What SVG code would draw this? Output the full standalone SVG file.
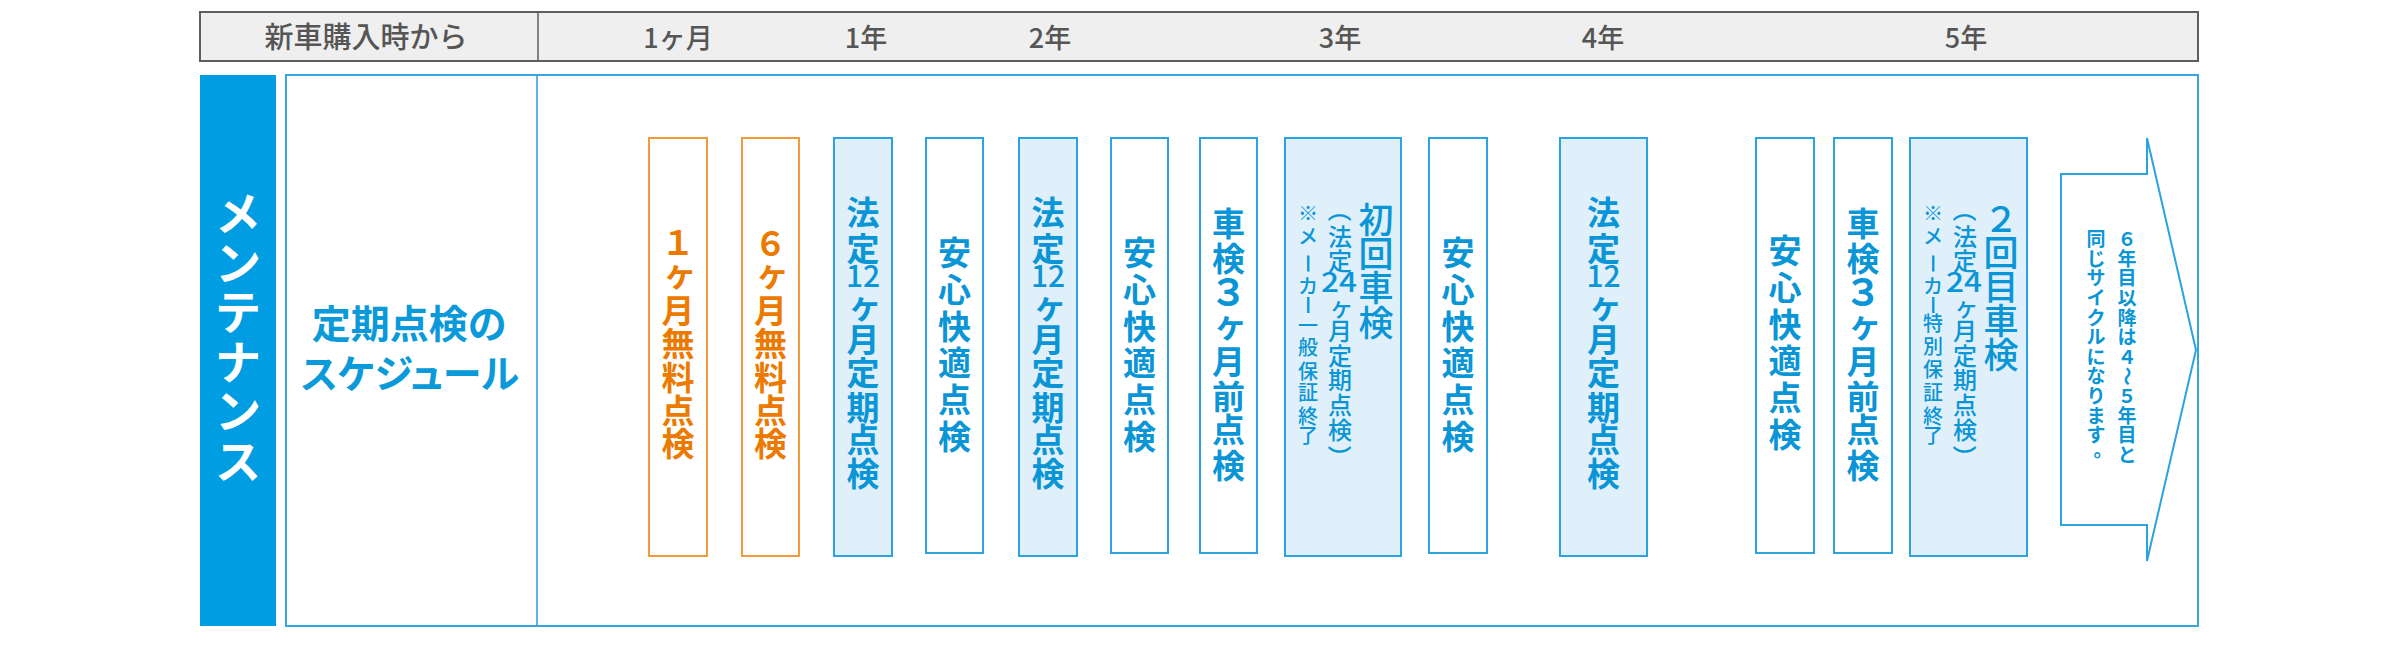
<svg xmlns="http://www.w3.org/2000/svg" width="2400" height="648" viewBox="0 0 2400 648">
<defs>
<style>
text{font-family:"Noto Sans CJK JP","Noto Sans",sans-serif;text-anchor:middle}
.hd{font-size:29px;font-weight:500;fill:#555555}
.hy{font-size:27px;font-weight:500;fill:#555555}
.or{font-size:33px;font-weight:700;fill:#ec7a00}
.bl{font-size:33px;font-weight:700;fill:#0a95d7}
.bd{font-size:30px;font-weight:500;fill:#0a95d7}
.b3{font-size:38px;font-weight:700;fill:#0a95d7}
.c1{font-size:35px;font-weight:500;fill:#0a95d7}
.c2{font-size:24px;font-weight:500;fill:#0a95d7}
.c3{font-size:20px;font-weight:500;fill:#0a95d7}
.ar{font-size:19px;font-weight:700;fill:#0a95d7}
.ob{fill:#ffffff;stroke:#f29b3d;stroke-width:2}
.wb{fill:#ffffff;stroke:#2aa3e0;stroke-width:2}
.fb{fill:#dff0fb;stroke:#2aa3e0;stroke-width:2}
</style>
</defs>
<rect width="2400" height="648" fill="#ffffff"/>
<g id="header">
<rect x="200" y="12" width="1998" height="49" fill="#eeefee" stroke="#5e5e5e" stroke-width="2"/>
<line x1="538" y1="12" x2="538" y2="61" stroke="#5e5e5e" stroke-width="1.5"/>
<text class="hd" x="366" y="48">新車購入時から</text>
<text class="hy" x="678" y="48">1ヶ月</text>
<text class="hy" x="866" y="48">1年</text>
<text class="hy" x="1050" y="48">2年</text>
<text class="hy" x="1340" y="48">3年</text>
<text class="hy" x="1603" y="48">4年</text>
<text class="hy" x="1966" y="48">5年</text>
</g>
<g id="maintenance">
<rect x="200" y="75" width="76" height="551" fill="#009de2"/>
<text style="font-size:46px;font-weight:700;fill:#ffffff"><tspan x="238" y="229.5">メ</tspan><tspan x="238" y="279.5">ン</tspan><tspan x="238" y="328.5">テ</tspan><tspan x="238" y="378.5">ナ</tspan><tspan x="238" y="427.5">ン</tspan><tspan x="238" y="477.5">ス</tspan></text>
</g>
<g id="schedule">
<rect x="286" y="75" width="1912" height="551" fill="#ffffff" stroke="#35a6e0" stroke-width="2"/>
<line x1="537" y1="75" x2="537" y2="626" stroke="#2b9ad8" stroke-width="1.5"/>
<text style="font-size:39px;font-weight:700;fill:#0a9ad9;font-feature-settings:'palt'"><tspan x="409" y="338">定期点検の</tspan><tspan x="410" y="388">スケジュール</tspan></text>
</g>
<g id="connectors"></g>
<g id="n1">
<rect class="ob" x="649" y="138" width="58" height="418"/>
<text class="or"><tspan x="678" y="254.5">１</tspan><tspan x="680" y="286">ヶ</tspan><tspan x="678" y="322.5">月</tspan><tspan x="678" y="355.5">無</tspan><tspan x="678" y="389.5">料</tspan><tspan x="678" y="422.5">点</tspan><tspan x="678" y="455.5">検</tspan></text>
</g>
<g id="n2">
<rect class="ob" x="742" y="138" width="57" height="418"/>
<text class="or"><tspan x="770.5" y="255.5">６</tspan><tspan x="772.5" y="286">ヶ</tspan><tspan x="770.5" y="322.5">月</tspan><tspan x="770.5" y="355.5">無</tspan><tspan x="770.5" y="389.5">料</tspan><tspan x="770.5" y="422.5">点</tspan><tspan x="770.5" y="455.5">検</tspan></text>
</g>
<g id="n3">
<rect class="fb" x="834" y="138" width="58" height="418"/>
<text class="bl"><tspan x="863" y="224.5">法</tspan><tspan x="863" y="260.5">定</tspan><tspan x="865" y="318">ヶ</tspan><tspan x="863" y="351.5">月</tspan><tspan x="863" y="384.5">定</tspan><tspan x="863" y="419.5">期</tspan><tspan x="863" y="451.5">点</tspan><tspan x="863" y="485.5">検</tspan></text>
<text class="bd" x="863" y="287">12</text>
</g>
<g id="n4">
<rect class="wb" x="926" y="138" width="57" height="415"/>
<text class="bl"><tspan x="954.5" y="264.5">安</tspan><tspan x="954.5" y="301.5">心</tspan><tspan x="954.5" y="338.5">快</tspan><tspan x="954.5" y="374.5">適</tspan><tspan x="954.5" y="411.5">点</tspan><tspan x="954.5" y="448.5">検</tspan></text>
</g>
<g id="n5">
<rect class="fb" x="1019" y="138" width="58" height="418"/>
<text class="bl"><tspan x="1048" y="224.5">法</tspan><tspan x="1048" y="260.5">定</tspan><tspan x="1050" y="318">ヶ</tspan><tspan x="1048" y="351.5">月</tspan><tspan x="1048" y="384.5">定</tspan><tspan x="1048" y="419.5">期</tspan><tspan x="1048" y="451.5">点</tspan><tspan x="1048" y="485.5">検</tspan></text>
<text class="bd" x="1048" y="287">12</text>
</g>
<g id="n6">
<rect class="wb" x="1111" y="138" width="57" height="415"/>
<text class="bl"><tspan x="1139.5" y="264.5">安</tspan><tspan x="1139.5" y="301.5">心</tspan><tspan x="1139.5" y="338.5">快</tspan><tspan x="1139.5" y="374.5">適</tspan><tspan x="1139.5" y="411.5">点</tspan><tspan x="1139.5" y="448.5">検</tspan></text>
</g>
<g id="n7">
<rect class="wb" x="1200" y="138" width="57" height="415"/>
<text class="bl"><tspan x="1228.5" y="235.5">車</tspan><tspan x="1228.5" y="270.5">検</tspan><tspan x="1230.5" y="337">ヶ</tspan><tspan x="1228.5" y="373.5">月</tspan><tspan x="1228.5" y="408.5">前</tspan><tspan x="1228.5" y="441.5">点</tspan><tspan x="1228.5" y="477.5">検</tspan></text>
<text class="b3" x="1228.5" y="306">３</text>
</g>
<g id="n8">
<rect class="fb" x="1285" y="138" width="116" height="418"/>
<text class="c1"><tspan x="1376" y="233.3">初</tspan><tspan x="1376" y="267.3">回</tspan><tspan x="1376" y="301.3">車</tspan><tspan x="1376" y="336.3">検</tspan></text>
<text class="c2" transform="translate(1340 210) rotate(90)" x="0" y="9.1">（</text>
<text class="c2"><tspan x="1340" y="246.1">法</tspan><tspan x="1340" y="270.1">定</tspan><tspan x="1341.5" y="316">ヶ</tspan><tspan x="1340" y="340.1">月</tspan><tspan x="1340" y="365.1">定</tspan><tspan x="1340" y="389.1">期</tspan><tspan x="1340" y="414.1">点</tspan><tspan x="1340" y="439.1">検</tspan></text>
<text class="c2" style="font-size:27px" x="1339" y="292" textLength="36" lengthAdjust="spacingAndGlyphs">24</text>
<text class="c2" transform="translate(1340 457) rotate(90)" x="0" y="9.1">）</text>
<text class="c3"><tspan x="1308" y="221.1">※</tspan><tspan x="1308" y="244.1">メ</tspan><tspan x="1308" y="294.1">カ</tspan><tspan x="1308" y="332.6">一</tspan><tspan x="1308" y="355.1">般</tspan><tspan x="1308" y="378.6">保</tspan><tspan x="1308" y="400.1">証</tspan><tspan x="1308" y="423.6">終</tspan><tspan x="1308" y="443.1">了</tspan></text>
<text class="c3" transform="translate(1308 263.5) rotate(90)" x="0" y="7.6">ー</text>
<text class="c3" transform="translate(1308 305) rotate(90)" x="0" y="7.6">ー</text>
</g>
<g id="n9">
<rect class="wb" x="1429" y="138" width="58" height="415"/>
<text class="bl"><tspan x="1458" y="264.5">安</tspan><tspan x="1458" y="301.5">心</tspan><tspan x="1458" y="338.5">快</tspan><tspan x="1458" y="374.5">適</tspan><tspan x="1458" y="411.5">点</tspan><tspan x="1458" y="448.5">検</tspan></text>
</g>
<g id="n10">
<rect class="fb" x="1560" y="138" width="87" height="418"/>
<text class="bl"><tspan x="1603.5" y="224.5">法</tspan><tspan x="1603.5" y="260.5">定</tspan><tspan x="1605.5" y="318">ヶ</tspan><tspan x="1603.5" y="351.5">月</tspan><tspan x="1603.5" y="384.5">定</tspan><tspan x="1603.5" y="419.5">期</tspan><tspan x="1603.5" y="451.5">点</tspan><tspan x="1603.5" y="485.5">検</tspan></text>
<text class="bd" x="1603.5" y="287">12</text>
</g>
<g id="n11">
<rect class="wb" x="1756" y="138" width="58" height="415"/>
<text class="bl"><tspan x="1785" y="262.5">安</tspan><tspan x="1785" y="299.5">心</tspan><tspan x="1785" y="336.5">快</tspan><tspan x="1785" y="372.5">適</tspan><tspan x="1785" y="409.5">点</tspan><tspan x="1785" y="446.5">検</tspan></text>
</g>
<g id="n12">
<rect class="wb" x="1834" y="138" width="58" height="415"/>
<text class="bl"><tspan x="1863" y="235.5">車</tspan><tspan x="1863" y="270.5">検</tspan><tspan x="1865" y="337">ヶ</tspan><tspan x="1863" y="373.5">月</tspan><tspan x="1863" y="408.5">前</tspan><tspan x="1863" y="441.5">点</tspan><tspan x="1863" y="477.5">検</tspan></text>
<text class="b3" x="1863" y="306">３</text>
</g>
<g id="n13">
<rect class="fb" x="1910" y="138" width="117" height="418"/>
<text class="c1"><tspan x="2001" y="232.3">２</tspan><tspan x="2001" y="266.3">回</tspan><tspan x="2001" y="300.3">目</tspan><tspan x="2001" y="334.3">車</tspan><tspan x="2001" y="368.3">検</tspan></text>
<text class="c2" transform="translate(1965 210) rotate(90)" x="0" y="9.1">（</text>
<text class="c2"><tspan x="1965" y="246.1">法</tspan><tspan x="1965" y="270.1">定</tspan><tspan x="1966.5" y="316">ヶ</tspan><tspan x="1965" y="340.1">月</tspan><tspan x="1965" y="365.1">定</tspan><tspan x="1965" y="389.1">期</tspan><tspan x="1965" y="414.1">点</tspan><tspan x="1965" y="439.1">検</tspan></text>
<text class="c2" style="font-size:27px" x="1964" y="292" textLength="36" lengthAdjust="spacingAndGlyphs">24</text>
<text class="c2" transform="translate(1965 457) rotate(90)" x="0" y="9.1">）</text>
<text class="c3"><tspan x="1933" y="221.1">※</tspan><tspan x="1933" y="244.1">メ</tspan><tspan x="1933" y="294.1">カ</tspan><tspan x="1933" y="331.1">特</tspan><tspan x="1933" y="353.6">別</tspan><tspan x="1933" y="376.6">保</tspan><tspan x="1933" y="400.1">証</tspan><tspan x="1933" y="423.6">終</tspan><tspan x="1933" y="443.1">了</tspan></text>
<text class="c3" transform="translate(1933 263.5) rotate(90)" x="0" y="7.6">ー</text>
<text class="c3" transform="translate(1933 305) rotate(90)" x="0" y="7.6">ー</text>
</g>
<g id="n14">
<polygon points="2061,174 2147,174 2147,138 2196,350 2147,561 2147,525 2061,525" fill="#ffffff" stroke="#2aa3e0" stroke-width="2"/>
<text class="ar"><tspan x="2127" y="246.2">６</tspan><tspan x="2127" y="265.8">年</tspan><tspan x="2127" y="285.4">目</tspan><tspan x="2127" y="305">以</tspan><tspan x="2127" y="324.6">降</tspan><tspan x="2127" y="344.2">は</tspan><tspan x="2127" y="363.8">４</tspan><tspan x="2127" y="403">５</tspan><tspan x="2127" y="422.6">年</tspan><tspan x="2127" y="442.2">目</tspan><tspan x="2127" y="461.8">と</tspan></text>
<text class="ar" transform="translate(2127 376.2) rotate(90)" x="0" y="7.2">～</text>
<text class="ar"><tspan x="2096" y="246.2">同</tspan><tspan x="2096" y="265.8">じ</tspan><tspan x="2096" y="285.4">サ</tspan><tspan x="2096" y="305">イ</tspan><tspan x="2096" y="324.6">ク</tspan><tspan x="2096" y="344.2">ル</tspan><tspan x="2096" y="363.8">に</tspan><tspan x="2096" y="383.4">な</tspan><tspan x="2096" y="403">り</tspan><tspan x="2096" y="422.6">ま</tspan><tspan x="2096" y="442.2">す</tspan><tspan x="2103" y="457">。</tspan></text>
</g>
</svg>
